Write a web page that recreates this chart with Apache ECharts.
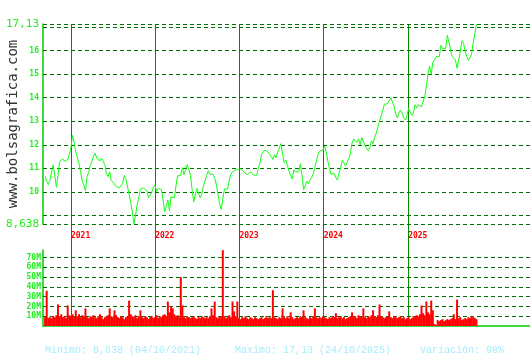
<!DOCTYPE html>
<html><head><meta charset="utf-8">
<script src="https://cdn.jsdelivr.net/npm/echarts@6/dist/echarts.min.js"></script>
<style>html,body{margin:0;padding:0;background:#fff}#c{width:530px;height:360px}</style>
</head><body><div id="c"></div>
<script>
// Weekly closes starting Friday 2020-09-11
const START_DATE = '2020-09-11';
const STEP_DAYS = 7;
const X_MIN = '2020-09-02';
const X_MAX = '2026-06-13';

const prices = [
10.66,10.45,10.31,10.5,10.85,11.15,10.7,10.2,10.7,11.3,
11.38,11.4,11.3,11.27,11.38,11.58,11.9,12.4,12.1,11.7,
11.46,11.2,10.85,10.47,10.3,10.05,10.65,10.83,11.12,11.3,
11.52,11.64,11.42,11.38,11.32,11.44,11.5,11.15,10.77,10.65,
10.85,10.48,10.5,10.33,10.22,10.25,10.18,10.15,10.35,10.7,
10.56,10.5,9.9,9.55,9.15,8.638,9.0,9.45,9.78,10.12,
10.15,10.17,10.17,10.05,9.75,9.82,9.98,10.2,10.3,10.02,
10.15,10.1,10.1,9.67,9.15,9.39,9.65,9.2,9.8,9.72,
9.75,10.24,10.68,10.6,10.7,11.04,10.73,10.95,11.16,11.15,
10.7,10.1,9.58,9.9,10.15,10.08,9.75,9.9,10.25,10.3,
10.7,10.9,10.75,10.72,10.75,10.56,10.33,9.9,9.52,9.25,
9.7,10.12,10.17,10.12,10.5,10.75,10.75,10.92,10.95,10.94,
10.95,10.98,10.92,10.85,10.85,10.73,10.66,10.85,10.9,10.72,
10.65,10.7,11.02,11.22,11.6,11.73,11.7,11.77,11.75,11.6,
11.5,11.38,11.58,11.45,11.7,11.7,12.05,11.6,11.25,11.35,
11.35,10.88,10.7,10.55,10.95,10.85,10.83,10.85,11.19,10.7,
10.1,10.25,10.45,10.35,10.5,10.62,10.76,11.05,11.32,11.6,
11.73,11.75,11.77,11.95,11.7,11.3,11.0,10.75,10.7,10.78,
10.6,10.5,10.8,11.05,11.35,11.3,11.1,11.27,11.42,11.65,
12.08,12.25,12.2,12.1,12.25,12.0,12.3,12.35,11.97,11.85,
11.75,11.88,12.17,12.05,12.3,12.5,12.75,13.0,13.23,13.45,
13.72,13.7,13.75,13.8,14.0,13.95,13.65,13.3,13.15,13.35,
13.48,13.35,13.15,13.05,13.25,13.55,13.39,13.25,13.35,13.7,
13.57,13.7,13.78,13.62,13.67,14.05,14.5,15.0,15.35,15.0,
15.5,15.62,15.75,15.7,15.75,16.22,16.09,16.03,16.1,16.65,
16.35,16.0,15.75,15.75,15.6,15.25,15.6,15.95,16.42,16.3,
15.97,15.75,15.58,15.55,15.85,16.35,16.72,17.13
];

// volume, millions of shares
const volumes = [
9,36,8,9,8,10,9,11,22,10,
12,9,10,8,21,11,10,12,9,16,
10,12,9,11,10,18,9,8,10,9,
11,9,8,10,12,9,7,9,10,11,
18,10,9,16,11,9,8,10,9,7,
9,10,26,12,10,9,11,8,10,16,
9,8,10,9,7,9,10,8,9,11,
8,10,9,11,12,10,25,14,20,18,
12,10,11,9,50,21,9,8,10,9,
8,9,10,8,7,9,8,10,9,8,
9,8,10,18,11,25,9,8,10,9,
77.5,10,8,9,11,9,25,15,9,25,
8,7,9,8,10,8,7,9,8,7,
9,8,7,8,9,7,8,10,8,9,
8,36.6,9,8,7,9,8,18,9,8,
10,8,14,9,7,8,9,8,10,9,
16,9,8,7,9,8,10,18,9,8,
9,8,10,9,8,7,9,8,10,9,
13,8,9,10,8,9,7,8,9,10,
14,9,10,8,11,9,10,18,9,8,
10,9,11,16,10,9,11,22,10,9,
8,9,10,15,9,8,10,9,8,9,
10,8,9,7,8,9,7,8,10,9,
11,10,12,21,13,11,25,14,12,26,
16,2,1,6,5,6,7,5,6,7,
6,7,8,12,7,27,8,9,6,7,
8,7,9,8,10,9,8,7
];

const yearTicks = ['2021-01-01','2022-01-01','2023-01-01','2024-01-01','2025-01-01'];
const priceLevels = [8.638, 9, 10, 11, 12, 13, 14, 15, 16, 17, 17.13];
const priceLevelLabels = ['8,638', '', '10', '11', '12', '13', '14', '15', '16', '', '17,13'];
const volumeLevels = [10, 20, 30, 40, 50, 60, 70];
const volumeLevelLabels = ['10M', '20M', '30M', '40M', '50M', '60M', '70M'];
const summaryTexts = ['Minimo: 8,638 (04/10/2021)', 'Maximo: 17,13 (24/10/2025)', 'Variación: 98%'];
const siteName = 'www.bolsagrafica.com';

const DAY = 86400000;
const t0 = Date.parse(START_DATE);
const priceData = prices.map((v, i) => [t0 + i * STEP_DAYS * DAY, v]);
const volumeData = volumes.map((v, i) => [t0 + i * STEP_DAYS * DAY, v]);
const xMin = Date.parse(X_MIN), xMax = Date.parse(X_MAX);
const yearValues = yearTicks.map(d => Date.parse(d));

const GREEN_AXIS = '#00cc00';
const GRID_DASH = { color: '#006e00', width: 1, type: [4, 3] };

function dateAxis(gi, extra) {
  return Object.assign({
    type: 'value', gridIndex: gi, min: xMin, max: xMax,
    axisLine: { show: false }, axisTick: { show: false },
    axisLabel: { show: false }, splitLine: { show: false }
  }, extra || {});
}

const chart = echarts.init(document.getElementById('c'), null, { renderer: 'canvas' });
chart.setOption({
  animation: false,
  backgroundColor: '#ffffff',
  grid: [
    { left: 43, right: 0, top: 24, height: 200, containLabel: false, outerBoundsMode: 'none' },
    { left: 43, right: 0, top: 250, height: 76, containLabel: false, outerBoundsMode: 'none' },
    { left: 43, right: 0, top: 24, height: 302, containLabel: false, outerBoundsMode: 'none' }
  ],
  xAxis: [
    dateAxis(0, {
      axisLabel: {
        show: true,
        customValues: yearValues,
        formatter: v => String(new Date(v).getUTCFullYear()),
        align: 'left', color: '#ff0000', fontFamily: 'DejaVu Sans Mono',
        fontWeight: 'bold', fontSize: 8, margin: 8
      }
    }),
    dateAxis(1, { axisLine: { show: true, onZero: false, lineStyle: { color: GREEN_AXIS, width: 1.5 } } }),
    dateAxis(2, { show: false })
  ],
  yAxis: [
    {
      type: 'value', gridIndex: 0, min: 8.638, max: 17.13,
      axisLine: { show: true, lineStyle: { color: GREEN_AXIS, width: 1.5 } },
      axisTick: { show: false }, axisLabel: { show: false }, splitLine: { show: false },
      name: siteName, nameLocation: 'middle', nameRotate: 90, nameGap: 23,
      nameTextStyle: { color: '#333333', fontFamily: 'DejaVu Sans Mono', fontSize: 14 }
    },
    {
      type: 'value', gridIndex: 1, min: 0, max: 77.7,
      axisLine: { show: true, onZero: false, lineStyle: { color: GREEN_AXIS, width: 1.5 } },
      axisTick: { show: false }, axisLabel: { show: false }, splitLine: { show: false }
    },
    { type: 'value', gridIndex: 2, min: 0, max: 1, show: false }
  ],
  series: [
    {
      type: 'line', xAxisIndex: 2, yAxisIndex: 2, data: [[xMin, 0]],
      showSymbol: false, symbol: 'none', lineStyle: { opacity: 0 }, silent: true,
      markLine: {
        silent: true, symbol: ['none', 'none'], animation: false,
        lineStyle: { color: '#008a00', width: 1, type: 'solid' },
        label: { show: false },
        data: yearValues.map(v => ({ xAxis: v }))
      }
    },
    {
      type: 'line', xAxisIndex: 0, yAxisIndex: 0, data: priceData, z: 10,
      showSymbol: false, symbol: 'none',
      lineStyle: { color: '#11ff11', width: 1 },
      markLine: {
        silent: true, symbol: ['none', 'none'], animation: false,
        lineStyle: GRID_DASH,
        data: priceLevels.map((v, i) => {
          const big = priceLevelLabels[i].indexOf(',') >= 0;
          return {
            yAxis: v,
            label: {
              show: priceLevelLabels[i] !== '', position: 'start', distance: 4,
              formatter: priceLevelLabels[i], color: '#22ee22',
              fontFamily: 'DejaVu Sans Mono',
              fontSize: big ? 11 : 8, fontWeight: big ? 'normal' : 'bold'
            }
          };
        })
      }
    },
    {
      type: 'bar', xAxisIndex: 1, yAxisIndex: 1, data: volumeData, z: 10,
      barWidth: 2, itemStyle: { color: '#ff0000' },
      markLine: {
        silent: true, symbol: ['none', 'none'], animation: false,
        lineStyle: GRID_DASH,
        data: volumeLevels.map((v, i) => ({
          yAxis: v,
          label: {
            show: true, position: 'start', distance: 2,
            formatter: volumeLevelLabels[i], color: '#22ee22',
            fontFamily: 'DejaVu Sans Mono', fontSize: 8, fontWeight: 'bold'
          }
        }))
      }
    }
  ],
  graphic: summaryTexts.map((t, i) => ({
    type: 'text', left: [45, 235, 420][i], top: 345,
    style: { text: t, fill: '#a8ecfc', font: '10px "Liberation Mono", monospace' }
  }))
});
</script></body></html>
